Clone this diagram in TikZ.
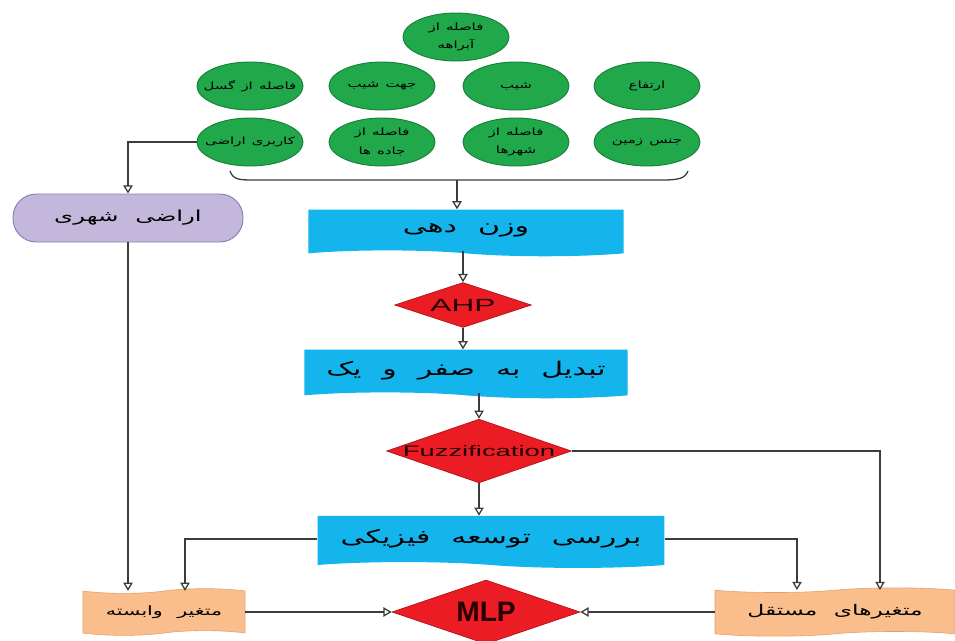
\documentclass[tikz,border=0pt]{standalone}
\usepackage{fontspec}
\setmainfont{Liberation Sans}
\newfontfamily\fa[Script=Arabic,FakeStretch=1.6,WordSpace=2.2]{DejaVu Sans}
\newfontfamily\fanarrow[Script=Arabic,FakeStretch=1.5,WordSpace=1.3]{DejaVu Sans}
\newfontfamily\widelatin[FakeStretch=1.8]{Liberation Sans}
\TeXXeTstate=1
\usetikzlibrary{shapes.geometric,shapes.symbols,arrows.meta}
\newcommand{\fatxt}[1]{{\fa\beginR #1\endR}}
\newcommand{\fasm}[1]{{\fanarrow\beginR #1\endR}}
\definecolor{leafgreen}{HTML}{20A84A}
\definecolor{darkleaf}{HTML}{17803A}
\definecolor{skyblue}{HTML}{14B4EC}
\definecolor{signred}{HTML}{EC1C24}
\definecolor{darkred}{HTML}{B01418}
\definecolor{lilac}{HTML}{C3B8DC}
\definecolor{darklilac}{HTML}{8A7DB4}
\definecolor{peach}{HTML}{F9BE8C}
\definecolor{darkpeach}{HTML}{E3A06A}
\definecolor{linegray}{HTML}{3C3C3C}
\tikzset{
    factor/.style={ellipse, draw=darkleaf, line width=0.8pt, fill=leafgreen, minimum width=3.18cm, minimum height=1.44cm, inner xsep=-0.8cm, inner ysep=-0.2cm, align=center, font=\fontsize{8.5}{11}\selectfont},
    stepbox/.style={tape, tape bend top=none, tape bend bottom=out and in, tape bend height=5pt, fill=skyblue, draw=none, inner sep=0pt, font=\fontsize{16}{18}\selectfont},
    test/.style={diamond, fill=signred, draw=darkred, line width=0.6pt, inner sep=0pt, text=black!85!red},
    varbox/.style={tape, tape bend top=in and out, tape bend bottom=in and out, tape bend height=4pt, fill=peach, draw=darkpeach, line width=0.5pt, inner sep=0pt, font=\fontsize{11}{12}\selectfont},
    conn/.style={draw=linegray, line width=1.1pt, -{Triangle[open,length=7pt,width=8pt]}},
    link/.style={draw=linegray, line width=1.1pt}
}
\begin{document}
\begin{tikzpicture}[x=0.03cm, y=-0.03cm]
                \useasboundingbox (0,0) rectangle (955,640);
                \clip (0,0) rectangle (955,640);
                \node[factor] (e0) at (456,37) {\fasm{فاصله از}\\[5pt]\fasm{آبراهه}};
                \node[factor] (e11) at (250,86) {\fasm{فاصله از گسل}};
                \node[factor] (e12) at (382,86) {\fasm{جهت شیب}};
                \node[factor] (e13) at (516,86) {\fasm{شیب}};
                \node[factor] (e14) at (647,86) {\fasm{ارتفاع}};
                \node[factor] (e21) at (250,142) {\fasm{کاربری اراضی}};
                \node[factor] (e22) at (382,142) {\fasm{فاصله از}\\[5pt]\fasm{جاده ها}};
                \node[factor] (e23) at (516,142) {\fasm{فاصله از}\\[5pt]\fasm{شهرها}};
                \node[factor] (e24) at (647,142) {\fasm{جنس زمین}};
                \draw[link] (230,171) .. controls (233,180) and (240,180) .. (255,180) -- (662,180) .. controls (680,180) and (685,178) .. (688,171);
                \coordinate (brace) at (457,180);
                \node[draw=darklilac, line width=0.8pt, fill=lilac, rounded corners=0.7cm, minimum width=6.9cm, minimum height=1.44cm, font=\fontsize{13}{15}\selectfont] (urban) at (128,218) {\fatxt{اراضی شهری}};
                \node[stepbox, minimum width=9.45cm, minimum height=1.4cm] (w1) at (466,230) {\fatxt{وزن دهی}};
                \node[test, shape aspect=3, minimum width=4.1cm, minimum height=1.35cm, font=\widelatin\fontsize{15}{16}\selectfont] (ahp) at (463,305) {AHP};
                \node[stepbox, minimum width=9.7cm, minimum height=1.46cm] (w2) at (466,371) {\fatxt{تبدیل به صفر و یک}};
                \node[test, shape aspect=2.9, minimum width=5.46cm, minimum height=1.86cm, font=\widelatin\fontsize{13}{14}\selectfont] (fuzz) at (479,451) {Fuzzification};
                \node[stepbox, minimum width=10.4cm, minimum height=1.56cm] (w3) at (491,539) {\fatxt{بررسی توسعه فیزیکی}};
                \node[varbox, minimum width=4.86cm, minimum height=1.4cm] (dep) at (164,612) {\fatxt{متغیر وابسته}};
                \node[varbox, minimum width=7.2cm, minimum height=1.45cm, font=\fontsize{12.5}{14}\selectfont] (ind) at (835,612) {\fatxt{متغیرهای مستقل}};
                \node[test, shape aspect=2.94, minimum width=5.64cm, minimum height=1.92cm, font=\bfseries\fontsize{24}{26}\selectfont] (mlp) at (486,612) {MLP};
                \draw[conn] (e21.west) -| (urban.north);
                \draw[conn] (brace) -- (brace |- w1.north);
                \draw[conn] (ahp.north |- w1.south) -- (ahp.north);
                \draw[conn] (ahp.south) -- (ahp.south |- w2.north);
                \draw[conn] (fuzz.north |- w2.south) -- (fuzz.north);
                \draw[conn] (fuzz.south) -- (fuzz.south |- w3.north);
                \draw[conn] (fuzz.east) -| ([xshift=1.35cm]ind.north);
                \draw[conn] (w3.east) -| ([xshift=-1.14cm]ind.north);
                \draw[conn] (w3.west) -| ([xshift=0.63cm]dep.north);
                \draw[conn] (urban.south) -- (urban.south |- dep.north);
                \draw[conn] (dep.east) -- (mlp.west);
                \draw[conn] (ind.west) -- (mlp.east);

            \end{tikzpicture}
\end{document}
